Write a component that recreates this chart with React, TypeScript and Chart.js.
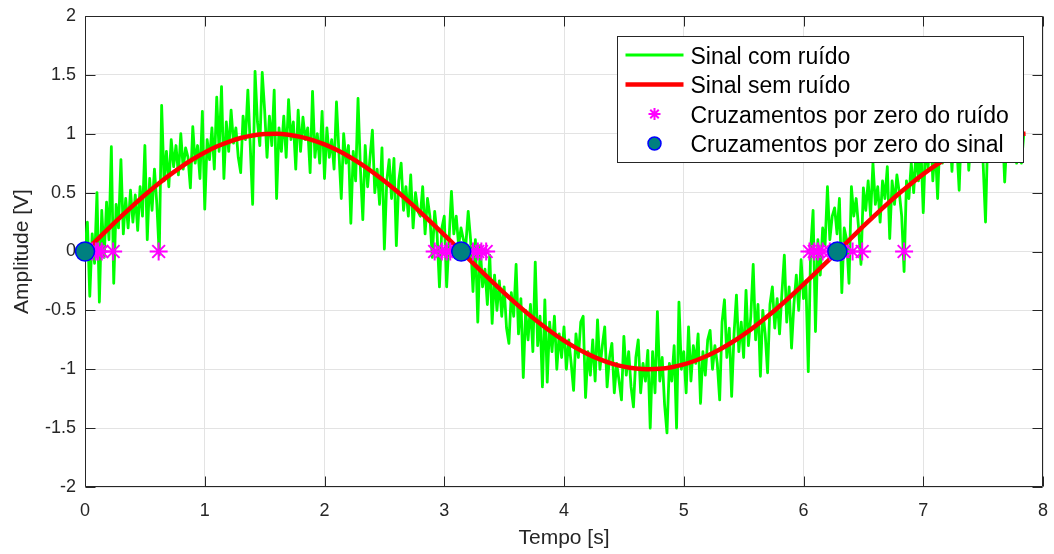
import React, { useEffect, useRef } from "react";
import { Chart, registerables } from "chart.js";

Chart.register(...registerables);

// ---------------- DATA ----------------
const seriesLabels = [
  "Sinal com ruído",
  "Sinal sem ruído",
  "Cruzamentos por zero do ruído",
  "Cruzamentos por zero do sinal",
];

// noisy signal, sampled every 0.02 s starting at t = 0
const noisyStep = 0.02;
const noisyValues = [
  0.02, 0.25, -0.38, 0.15, -0.1, 0.5, -0.43, 0.35, -0.05, 0.42, // 0.00
  0.1, 0.89, -0.27, 0.4, 0.2, 0.78, 0.15, 0.45, 0.2, 0.52, // 0.20
  0.25, 0.48, 0.18, 0.55, 0.3, 0.9, 0.1, 0.62, 0.35, 0.7, // 0.40
  0.4, -0.03, 1.24, 0.6, 0.85, 0.55, 0.95, 0.72, 0.9, 0.65, // 0.60
  1.0, 0.7, 0.88, 0.8, 0.54, 1.06, 0.75, 0.9, 0.62, 1.19, // 0.80
  0.36, 0.95, 0.78, 1.05, 0.7, 1.31, 0.85, 1.4, 0.62, 1.1, // 1.00
  0.85, 1.2, 0.92, 1.05, 0.8, 0.67, 1.15, 0.95, 1.37, 0.9, // 1.20
  0.4, 1.53, 1.1, 0.9, 1.52, 1.2, 0.8, 1.15, 0.9, 1.37, // 1.40
  0.45, 1.05, 0.85, 1.15, 0.8, 1.29, 0.95, 1.1, 0.7, 1.2, // 1.60
  0.85, 1.14, 0.95, 1.05, 0.67, 1.36, 0.8, 1.0, 0.75, 1.19, // 1.80
  0.62, 1.05, 0.8, 0.95, 0.7, 1.27, 0.85, 0.45, 1.0, 0.75, // 2.00
  0.9, 0.24, 0.85, 0.6, 1.3, 0.7, 0.27, 0.9, 0.55, 0.8, // 2.20
  1.03, 0.5, 0.7, 0.4, 0.88, 0.02, 0.6, 0.78, 0.45, 0.79, // 2.40
  0.05, 0.6, 0.75, 0.35, 0.55, 0.3, 0.65, 0.2, 0.5, 0.34, // 2.60
  0.3, 0.55, 0.15, 0.45, 0.3, -0.05, 0.34, 0.15, -0.3, 0.2, // 2.80
  0.3, -0.3, 0.1, 0.51, 0.15, 0.3, 0.05, 0.2, 0.1, 0.05, // 3.00
  0.34, 0.1, -0.34, 0.1, -0.6, 0.05, -0.3, -0.15, -0.45, -0.03, // 3.20
  -0.61, -0.2, -0.5, -0.25, -0.55, -0.3, -0.65, -0.78, -0.35, -0.55, // 3.40
  -0.11, -0.7, -0.4, -1.07, -0.5, -0.75, -0.45, -0.85, -0.09, -0.8, // 3.60
  -0.55, -1.15, -0.41, -1.11, -0.6, -0.85, -0.55, -1.0, -0.7, -0.9, // 3.80
  -0.64, -1.0, -0.75, -0.95, -1.18, -0.7, -0.9, -0.6, -0.55, -1.24, // 4.00
  -0.85, -1.05, -0.75, -1.1, -0.58, -1.0, -0.8, -0.64, -1.15, -0.9, // 4.20
  -0.78, -1.2, -0.95, -1.1, -1.26, -0.72, -1.05, -0.85, -1.15, -1.32, // 4.40
  -0.9, -0.75, -1.2, -0.95, -1.1, -0.84, -1.5, -0.85, -1.2, -0.51, // 4.60
  -1.1, -0.9, -1.3, -1.54, -0.95, -1.1, -0.8, -1.5, -0.43, -1.0, // 4.80
  -0.85, -1.2, -0.64, -1.1, -0.8, -0.95, -0.7, -1.29, -0.85, -1.05, // 5.00
  -0.75, -0.67, -1.0, -0.8, -0.95, -1.26, -0.6, -0.41, -0.9, -0.65, // 5.20
  -1.23, -0.7, -0.37, -0.85, -0.6, -0.9, -0.33, -0.8, -0.55, -0.11, // 5.40
  -0.75, -0.45, -1.06, -0.5, -0.7, -1.03, -0.45, -0.3, -0.65, -0.4, // 5.60
  -0.7, -0.35, -0.03, -0.6, -0.3, -0.82, -0.45, -0.2, -0.5, -0.07, // 5.80
  -0.4, -0.25, -1.02, 0.02, 0.35, -0.68, 0.1, -0.2, 0.2, 0.05, // 6.00
  0.55, 0.1, 0.3, 0.37, 0.15, 0.45, -0.35, 0.2, 0.1, -0.27, // 6.20
  0.55, 0.3, 0.45, 0.2, -0.11, 0.54, 0.35, 0.6, 0.3, 0.75, // 6.40
  0.4, 0.55, 0.25, 0.6, 0.45, 0.72, 0.11, 0.6, 0.4, 0.65, // 6.60
  0.5, 0.3, -0.17, 0.6, 0.45, 0.75, 0.5, 0.85, 0.6, 0.9, // 6.80
  0.33, 0.95, 0.7, 1.1, 0.6, 0.9, 0.45, 1.0, 0.75, 1.2, // 7.00
  0.8, 1.05, 0.68, 1.15, 0.9, 0.52, 1.1, 0.8, 1.25, 0.69, // 7.20
  1.0, 0.85, 1.2, 0.95, 1.3, 0.75, 0.25, 1.05, 0.85, 1.15, // 7.40
  0.9, 1.2, 0.8, 1.1, 0.59, 1.0, 0.85, 1.25, 0.9, 0.75, // 7.60
  1.1, 0.75, 1.0, // 7.80
];

// clean signal samples
const cleanT = [
  0, 0.1, 0.2, 0.3, 0.4, 0.5, 0.6, 0.7, 0.8, 0.9,
  1.0, 1.1, 1.2, 1.3, 1.4, 1.5, 1.6, 1.7, 1.8, 1.9,
  2.0, 2.1, 2.2, 2.3, 2.4, 2.5, 2.6, 2.7, 2.8, 2.9,
  3.0, 3.1, 3.2, 3.3, 3.4, 3.5, 3.6, 3.7, 3.8, 3.9,
  4.0, 4.1, 4.2, 4.3, 4.4, 4.5, 4.6, 4.7, 4.8, 4.9,
  5.0, 5.1, 5.2, 5.3, 5.4, 5.5, 5.6, 5.7, 5.8, 5.9,
  6.0, 6.1, 6.2, 6.3, 6.4, 6.5, 6.6, 6.7, 6.8, 6.9,
  7.0, 7.1, 7.2, 7.3, 7.4, 7.5, 7.6, 7.7, 7.8, 7.854,
];
const cleanValues = [
  0, 0.0998, 0.1987, 0.2955, 0.3894, 0.4794, 0.5646, 0.6442, 0.7174, 0.7833,
  0.8415, 0.8912, 0.932, 0.9636, 0.9854, 0.9975, 0.9996, 0.9917, 0.9738, 0.9463,
  0.9093, 0.8632, 0.8085, 0.7457, 0.6755, 0.5985, 0.5155, 0.4274, 0.335, 0.2392,
  0.1411, 0.0416, -0.0584, -0.1577, -0.2555, -0.3508, -0.4425, -0.5298, -0.6119, -0.6878,
  -0.7568, -0.8183, -0.8716, -0.9162, -0.9516, -0.9775, -0.9937, -0.9999, -0.9962, -0.9825,
  -0.9589, -0.9258, -0.8835, -0.8323, -0.7728, -0.7055, -0.6313, -0.5507, -0.4646, -0.3739,
  -0.2794, -0.1822, -0.0831, 0.0168, 0.1165, 0.2151, 0.3115, 0.4048, 0.4941, 0.5784,
  0.657, 0.729, 0.7937, 0.8504, 0.8987, 0.938, 0.9679, 0.9882, 0.9985, 1.0,
];

// zero crossings
const noiseZeroT = [
  0.06, 0.09, 0.11, 0.14, 0.235, 0.615,
  2.92, 2.98, 3.02, 3.05, 3.24, 3.28, 3.31, 3.35,
  6.05, 6.09, 6.12, 6.16, 6.22, 6.33, 6.41, 6.49, 6.84,
];
const signalZeroT = [0, 3.1416, 6.2832];

const xTicks = [0, 1, 2, 3, 4, 5, 6, 7, 8];
const yTicks = [-2, -1.5, -1, -0.5, 0, 0.5, 1, 1.5, 2];

const xTitle = "Tempo [s]";
const yTitle = "Amplitude [V]";

// ---------------- STYLE ----------------
const FONT = '"Liberation Sans", Arial, Helvetica, sans-serif';
const AXIS_COLOR = "#262626";
const GRID_COLOR = "#e3e3e3";
const GREEN = "#00ff00";
const RED = "#ff0000";
const MAGENTA = "#ff00ff";
const TEAL = "#008080";
const BLUE = "#0000ff";

const boxPlugin = {
  id: "matlabBox",
  beforeDatasetsDraw(chart: any) {
    const { ctx, chartArea: a, scales } = chart;
    const L = Math.round(a.left) + 0.5;
    const R = Math.round(a.right) - 0.5;
    const T = Math.round(a.top) + 0.5;
    const B = Math.round(a.bottom) - 0.5;
    ctx.save();
    ctx.strokeStyle = AXIS_COLOR;
    ctx.lineWidth = 1;
    ctx.beginPath();
    ctx.rect(L, T, R - L, B - T);
    const tl = 10;
    xTicks.forEach((v) => {
      const px = Math.round(scales.x.getPixelForValue(v)) + 0.5;
      ctx.moveTo(px, B);
      ctx.lineTo(px, B - tl);
      ctx.moveTo(px, T);
      ctx.lineTo(px, T + tl);
    });
    yTicks.forEach((v) => {
      const py = Math.round(scales.y.getPixelForValue(v)) + 0.5;
      ctx.moveTo(L, py);
      ctx.lineTo(L + tl, py);
      ctx.moveTo(R, py);
      ctx.lineTo(R - tl, py);
    });
    ctx.stroke();
    ctx.restore();
  },
};

function drawStar(ctx: CanvasRenderingContext2D, x: number, y: number, r: number) {
  ctx.beginPath();
  for (let k = 0; k < 4; k++) {
    const ang = (k * Math.PI) / 4;
    const dx = Math.cos(ang) * r;
    const dy = Math.sin(ang) * r;
    ctx.moveTo(x - dx, y - dy);
    ctx.lineTo(x + dx, y + dy);
  }
  ctx.stroke();
}

const legendPlugin = {
  id: "insideLegend",
  afterDraw(chart: any) {
    const { ctx, chartArea: a } = chart;
    const W = 406;
    const H = 126;
    const L = Math.round(a.right - 20 - W) + 0.5;
    const T = Math.round(a.top + 20) + 0.5;
    ctx.save();
    ctx.fillStyle = "#ffffff";
    ctx.fillRect(L, T, W, H);
    ctx.strokeStyle = AXIS_COLOR;
    ctx.lineWidth = 1;
    ctx.strokeRect(L, T, W, H);
    const rowStep = 29.5;
    const firstRow = T + 18.5;
    const lineX0 = L + 8;
    const lineX1 = L + 66;
    const markX = L + 37;
    const textX = L + 73;
    ctx.font = `23px ${FONT}`;
    ctx.textBaseline = "alphabetic";
    ctx.textAlign = "left";
    chart.data.datasets.forEach((ds: any, i: number) => {
      const y = firstRow + i * rowStep;
      if (i < 2) {
        ctx.strokeStyle = ds.borderColor;
        ctx.lineWidth = ds.borderWidth;
        ctx.lineCap = "butt";
        ctx.beginPath();
        ctx.moveTo(lineX0, y);
        ctx.lineTo(lineX1, y);
        ctx.stroke();
      } else if (i === 2) {
        ctx.strokeStyle = MAGENTA;
        ctx.lineWidth = 2;
        drawStar(ctx, markX, y, 6);
      } else {
        ctx.fillStyle = TEAL;
        ctx.strokeStyle = BLUE;
        ctx.lineWidth = 1.5;
        ctx.beginPath();
        ctx.arc(markX, y, 6.5, 0, Math.PI * 2);
        ctx.fill();
        ctx.stroke();
      }
      ctx.fillStyle = "#000000";
      ctx.fillText(ds.label, textX, y + 8.5);
    });
    ctx.restore();
  },
};

export default function App() {
  const canvasRef = useRef<HTMLCanvasElement | null>(null);

  useEffect(() => {
    if (!canvasRef.current) return;
    Chart.defaults.font.family = FONT;

    const noisyData = noisyValues.map((v, i) => ({ x: +(i * noisyStep).toFixed(2), y: v }));
    const cleanData = cleanT.map((t, i) => ({ x: t, y: cleanValues[i] }));
    const noiseZeroData = noiseZeroT.map((t) => ({ x: t, y: 0 }));
    const signalZeroData = signalZeroT.map((t) => ({ x: t, y: 0 }));

    const chart = new Chart(canvasRef.current, {
      type: "scatter",
      data: {
        datasets: [
          {
            label: seriesLabels[0],
            data: noisyData,
            showLine: true,
            borderColor: GREEN,
            backgroundColor: GREEN,
            borderWidth: 2.8,
            pointRadius: 0,
            borderJoinStyle: "round",
            borderCapStyle: "round",
            tension: 0,
            order: 4,
          },
          {
            label: seriesLabels[1],
            data: cleanData,
            showLine: true,
            borderColor: RED,
            backgroundColor: RED,
            borderWidth: 4.5,
            pointRadius: 0,
            cubicInterpolationMode: "monotone",
            order: 3,
          },
          {
            label: seriesLabels[2],
            data: noiseZeroData,
            showLine: false,
            pointStyle: "star",
            pointRadius: 9,
            pointBorderWidth: 2,
            pointBorderColor: MAGENTA,
            pointBackgroundColor: MAGENTA,
            borderColor: MAGENTA,
            backgroundColor: MAGENTA,
            order: 2,
            clip: false,
          },
          {
            label: seriesLabels[3],
            data: signalZeroData,
            showLine: false,
            pointStyle: "circle",
            pointRadius: 9.5,
            pointBorderWidth: 1.5,
            pointBorderColor: BLUE,
            pointBackgroundColor: TEAL,
            borderColor: BLUE,
            backgroundColor: TEAL,
            order: 1,
            clip: false,
          },
        ] as any,
      },
      options: {
        animation: false,
        responsive: false,
        maintainAspectRatio: false,
        layout: { padding: { left: 0, top: 16, right: 6, bottom: 0 } },
        plugins: {
          legend: { display: false },
          tooltip: { enabled: false },
        },
        scales: {
          x: {
            type: "linear",
            min: 0,
            max: 8,
            afterFit: (axis: any) => {
              axis.height = 67;
              axis.paddingLeft = 0;
              axis.paddingRight = 0;
              axis.paddingTop = 0;
              axis.paddingBottom = 0;
            },
            afterBuildTicks: (axis: any) => {
              axis.ticks = xTicks.map((v) => ({ value: v }));
            },
            ticks: {
              color: AXIS_COLOR,
              font: { size: 18, family: FONT },
              padding: 13,
              maxRotation: 0,
              callback: (v: any) => String(v),
            },
            grid: { color: GRID_COLOR, lineWidth: 1, drawTicks: false },
            border: { display: false },
            title: {
              display: true,
              text: xTitle,
              color: AXIS_COLOR,
              font: { size: 21, family: FONT },
              padding: { top: 0, bottom: 3.4 },
            },
          },
          y: {
            type: "linear",
            min: -2,
            max: 2,
            afterFit: (axis: any) => {
              axis.width = 85;
              axis.paddingLeft = 0;
              axis.paddingRight = 0;
              axis.paddingTop = 0;
              axis.paddingBottom = 0;
            },
            afterBuildTicks: (axis: any) => {
              axis.ticks = yTicks.map((v) => ({ value: v }));
            },
            ticks: {
              color: AXIS_COLOR,
              font: { size: 18, family: FONT },
              padding: 9,
              callback: (v: any) => String(v),
            },
            grid: { color: GRID_COLOR, lineWidth: 1, drawTicks: false },
            border: { display: false },
            title: {
              display: true,
              text: yTitle,
              color: AXIS_COLOR,
              font: { size: 21, family: FONT },
              padding: { top: 9.4, bottom: 0 },
            },
          },
        },
      } as any,
      plugins: [boxPlugin, legendPlugin],
    });

    return () => {
      chart.destroy();
    };
  }, []);

  return (
    <div style={{ position: "absolute", left: 0, top: 0, width: 1054, height: 554, background: "#ffffff" }}>
      <canvas ref={canvasRef} width={1054} height={554} style={{ display: "block" }} />
    </div>
  );
}
